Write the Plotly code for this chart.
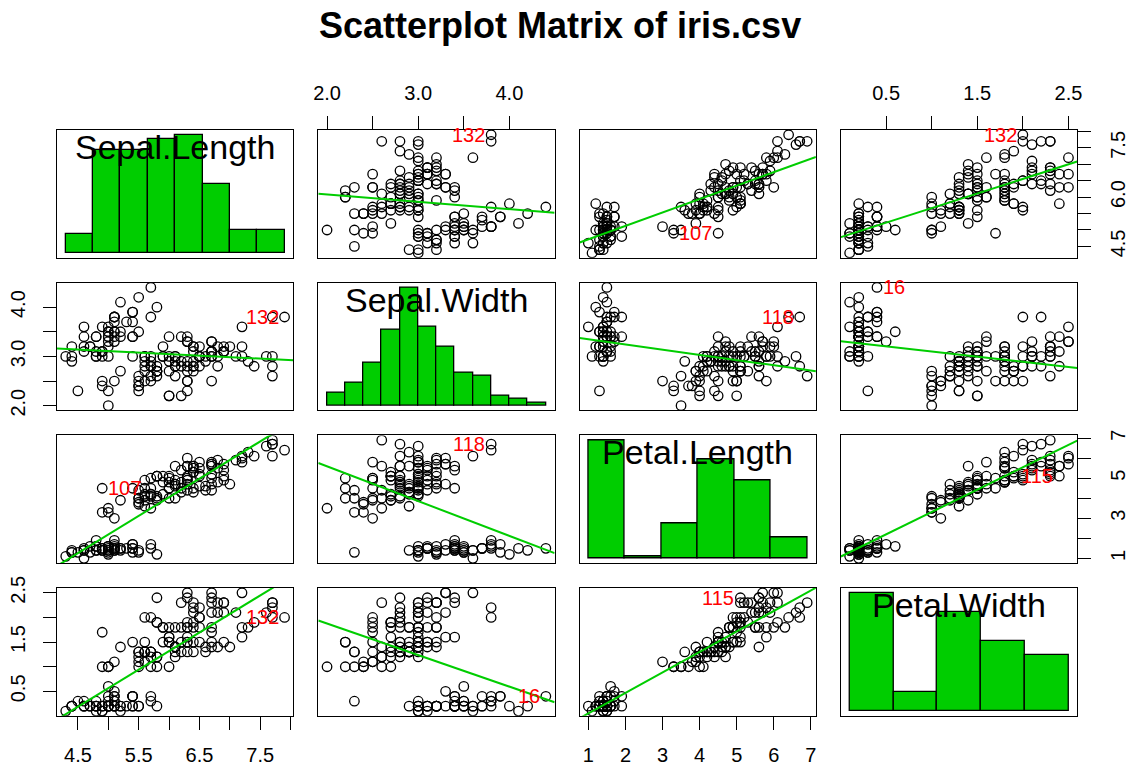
import numpy as np
import plotly.graph_objects as go

# ---------------- data (iris, 150 cases) ----------------
sepal_length = [5.1,4.9,4.7,4.6,5.0,5.4,4.6,5.0,4.4,4.9,5.4,4.8,4.8,4.3,5.8,5.7,5.4,5.1,5.7,5.1,
                5.4,5.1,4.6,5.1,4.8,5.0,5.0,5.2,5.2,4.7,4.8,5.4,5.2,5.5,4.9,5.0,5.5,4.9,4.4,5.1,
                5.0,4.5,4.4,5.0,5.1,4.8,5.1,4.6,5.3,5.0,
                7.0,6.4,6.9,5.5,6.5,5.7,6.3,4.9,6.6,5.2,5.0,5.9,6.0,6.1,5.6,6.7,5.6,5.8,6.2,5.6,
                5.9,6.1,6.3,6.1,6.4,6.6,6.8,6.7,6.0,5.7,5.5,5.5,5.8,6.0,5.4,6.0,6.7,6.3,5.6,5.5,
                5.5,6.1,5.8,5.0,5.6,5.7,5.7,6.2,5.1,5.7,
                6.3,5.8,7.1,6.3,6.5,7.6,4.9,7.3,6.7,7.2,6.5,6.4,6.8,5.7,5.8,6.4,6.5,7.7,7.7,6.0,
                6.9,5.6,7.7,6.3,6.7,7.2,6.2,6.1,6.4,7.2,7.4,7.9,6.4,6.3,6.1,7.7,6.3,6.4,6.0,6.9,
                6.7,6.9,5.8,6.8,6.7,6.7,6.3,6.5,6.2,5.9]
sepal_width = [3.5,3.0,3.2,3.1,3.6,3.9,3.4,3.4,2.9,3.1,3.7,3.4,3.0,3.0,4.0,4.4,3.9,3.5,3.8,3.8,
               3.4,3.7,3.6,3.3,3.4,3.0,3.4,3.5,3.4,3.2,3.1,3.4,4.1,4.2,3.1,3.2,3.5,3.6,3.0,3.4,
               3.5,2.3,3.2,3.5,3.8,3.0,3.8,3.2,3.7,3.3,
               3.2,3.2,3.1,2.3,2.8,2.8,3.3,2.4,2.9,2.7,2.0,3.0,2.2,2.9,2.9,3.1,3.0,2.7,2.2,2.5,
               3.2,2.8,2.5,2.8,2.9,3.0,2.8,3.0,2.9,2.6,2.4,2.4,2.7,2.7,3.0,3.4,3.1,2.3,3.0,2.5,
               2.6,3.0,2.6,2.3,2.7,3.0,2.9,2.9,2.5,2.8,
               3.3,2.7,3.0,2.9,3.0,3.0,2.5,2.9,2.5,3.6,3.2,2.7,3.0,2.5,2.8,3.2,3.0,3.8,2.6,2.2,
               3.2,2.8,2.8,2.7,3.3,3.2,2.8,3.0,2.8,3.0,2.8,3.8,2.8,2.8,2.6,3.0,3.4,3.1,3.0,3.1,
               3.1,3.1,2.7,3.2,3.3,3.0,2.5,3.0,3.4,3.0]
petal_length = [1.4,1.4,1.3,1.5,1.4,1.7,1.4,1.5,1.4,1.5,1.5,1.6,1.4,1.1,1.2,1.5,1.3,1.4,1.7,1.5,
                1.7,1.5,1.0,1.7,1.9,1.6,1.6,1.5,1.4,1.6,1.6,1.5,1.5,1.4,1.5,1.2,1.3,1.4,1.3,1.5,
                1.3,1.3,1.3,1.6,1.9,1.4,1.6,1.4,1.5,1.4,
                4.7,4.5,4.9,4.0,4.6,4.5,4.7,3.3,4.6,3.9,3.5,4.2,4.0,4.7,3.6,4.4,4.5,4.1,4.5,3.9,
                4.8,4.0,4.9,4.7,4.3,4.4,4.8,5.0,4.5,3.5,3.8,3.7,3.9,5.1,4.5,4.5,4.7,4.4,4.1,4.0,
                4.4,4.6,4.0,3.3,4.2,4.2,4.2,4.3,3.0,4.1,
                6.0,5.1,5.9,5.6,5.8,6.6,4.5,6.3,5.8,6.1,5.1,5.3,5.5,5.0,5.1,5.3,5.5,6.7,6.9,5.0,
                5.7,4.9,6.7,4.9,5.7,6.0,4.8,4.9,5.6,5.8,6.1,6.4,5.6,5.1,5.6,6.1,5.6,5.5,4.8,5.4,
                5.6,5.1,5.1,5.9,5.7,5.2,5.0,5.2,5.4,5.1]
petal_width = [0.2,0.2,0.2,0.2,0.2,0.4,0.3,0.2,0.2,0.1,0.2,0.2,0.1,0.1,0.2,0.4,0.4,0.3,0.3,0.3,
               0.2,0.4,0.2,0.5,0.2,0.2,0.4,0.2,0.2,0.2,0.2,0.4,0.1,0.2,0.2,0.2,0.2,0.1,0.2,0.2,
               0.3,0.3,0.2,0.6,0.4,0.3,0.2,0.2,0.2,0.2,
               1.4,1.5,1.5,1.3,1.5,1.3,1.6,1.0,1.3,1.4,1.0,1.5,1.0,1.4,1.3,1.4,1.5,1.0,1.5,1.1,
               1.8,1.3,1.5,1.2,1.3,1.4,1.4,1.7,1.5,1.0,1.1,1.0,1.2,1.6,1.5,1.6,1.5,1.3,1.3,1.3,
               1.2,1.4,1.2,1.0,1.3,1.2,1.3,1.3,1.1,1.3,
               2.5,1.9,2.1,1.8,2.2,2.1,1.7,1.8,1.8,2.5,2.0,1.9,2.1,2.0,2.4,2.3,1.8,2.2,2.3,1.5,
               2.3,2.0,2.0,1.8,2.1,1.8,1.8,1.8,2.1,1.6,1.9,2.0,2.2,1.5,1.4,2.3,2.4,1.8,1.8,2.1,
               2.4,2.3,1.9,2.3,2.5,2.3,1.9,2.0,2.3,1.8]

var_names = ["Sepal.Length", "Sepal.Width", "Petal.Length", "Petal.Width"]
variables = [sepal_length, sepal_width, petal_length, petal_width]

# histogram break points on the diagonal
sl_breaks = [4.0, 4.5, 5.0, 5.5, 6.0, 6.5, 7.0, 7.5, 8.0]
sw_breaks = [2.0, 2.2, 2.4, 2.6, 2.8, 3.0, 3.2, 3.4, 3.6, 3.8, 4.0, 4.2, 4.4]
pl_breaks = [1.0, 2.0, 3.0, 4.0, 5.0, 6.0, 7.0]
pw_breaks = [0.0, 0.5, 1.0, 1.5, 2.0, 2.5]
breaks = [sl_breaks, sw_breaks, pl_breaks, pw_breaks]

# tick marks / labels
sl_ticks = [4.5, 5.0, 5.5, 6.0, 6.5, 7.0, 7.5, 8.0]
sl_xlabels = ["4.5", "", "5.5", "", "6.5", "", "7.5", ""]
sl_ylabels = ["4.5", "", "", "6.0", "", "", "7.5", ""]
sw_ticks = [2.0, 2.5, 3.0, 3.5, 4.0]
sw_labels = ["2.0", "", "3.0", "", "4.0"]
pl_ticks = [1, 2, 3, 4, 5, 6, 7]
pl_xlabels = ["1", "2", "3", "4", "5", "6", "7"]
pl_ylabels = ["1", "", "3", "", "5", "", "7"]
pw_ticks = [0.5, 1.0, 1.5, 2.0, 2.5]
pw_labels = ["0.5", "", "1.5", "", "2.5"]

# identified cases per panel: (row, col) -> case number
id_rows = [0, 0, 0, 1, 1, 1, 2, 2, 2, 3, 3, 3]
id_cols = [1, 2, 3, 0, 2, 3, 0, 1, 3, 0, 1, 2]
id_cases = [132, 107, 132, 132, 118, 16, 107, 118, 115, 132, 16, 115]

# ---------------- styling / layout ----------------
W, H = 1130, 769
GREEN = "#00CD00"
FONT = "Liberation Sans, Arial, sans-serif"
col_left = [57, 318.3, 579.6, 840.9]
col_w = 236.3
row_top = [130, 282.7, 435.4, 588.1]
row_h = 127.7
FRAME_W = 1.4

def rng(vals):
    lo, hi = min(vals), max(vals)
    d = (hi - lo) * 0.04
    return [lo - d, hi + d]

def rc_hist(vals, br):
    counts = []
    for i in range(len(br) - 1):
        lo, hi = br[i], br[i + 1]
        c = 0
        for v in vals:
            if (v > lo or (i == 0 and v >= lo)) and v <= hi:
                c += 1
        counts.append(c)
    return counts

fig = go.Figure()
layout = {}

def axname(k, a):
    return a + ("" if k == 1 else str(k))

for r in range(4):
    for c in range(4):
        k = r * 4 + c + 1
        xa, ya = axname(k, "xaxis"), axname(k, "yaxis")
        xr, yr = axname(k, "x"), axname(k, "y")
        xdom = [col_left[c] / W, (col_left[c] + col_w) / W]
        ydom = [1 - (row_top[r] + row_h) / H, 1 - row_top[r] / H]
        base = dict(showgrid=False, zeroline=False, showline=True, mirror=True,
                    linecolor="black", linewidth=FRAME_W, fixedrange=True,
                    tickfont=dict(family=FONT, size=20, color="black"),
                    ticks="", showticklabels=False, tickcolor="black",
                    ticklen=13, tickwidth=1.3, automargin=False)
        xax = dict(base, domain=xdom, anchor=yr)
        yax = dict(base, domain=ydom, anchor=xr)
        if r == c:
            vals = variables[c]
            br = breaks[c]
            counts = rc_hist(vals, br)
            centers = [(br[i] + br[i + 1]) / 2 for i in range(len(br) - 1)]
            widths = [br[i + 1] - br[i] for i in range(len(br) - 1)]
            fig.add_trace(go.Bar(x=centers, y=counts, width=widths, xaxis=xr, yaxis=yr,
                                 marker=dict(color=GREEN, line=dict(color="black", width=1.3)),
                                 showlegend=False, hoverinfo="skip"))
            xax["range"] = rng(br)
            m = max(counts)
            yax["range"] = [-0.04 * m, 1.04 * m]
            fig.add_annotation(x=(xdom[0] + xdom[1]) / 2, y=ydom[1], xref="paper", yref="paper",
                               text=var_names[c], showarrow=False, xanchor="center", yanchor="top",
                               yshift=4,
                               font=dict(family=FONT, size=34, color="black"))
        else:
            xv, yv = variables[c], variables[r]
            xrg, yrg = rng(xv), rng(yv)
            xax["range"] = xrg
            yax["range"] = yrg
            fig.add_trace(go.Scatter(x=xv, y=yv, mode="markers", xaxis=xr, yaxis=yr,
                                     marker=dict(symbol="circle-open", size=9.5, color="black",
                                                 line=dict(width=1.3, color="black")),
                                     showlegend=False, hoverinfo="skip"))
            b, a = np.polyfit(xv, yv, 1)
            fig.add_trace(go.Scatter(x=xrg, y=[a + b * xrg[0], a + b * xrg[1]], mode="lines",
                                     xaxis=xr, yaxis=yr, line=dict(color=GREEN, width=2),
                                     showlegend=False, hoverinfo="skip"))
        # ticks
        if r == 0 and c in (1, 3):
            xax.update(side="top", ticks="outside", showticklabels=True, ticklabelstandoff=8)
        if r == 3 and c in (0, 2):
            xax.update(side="bottom", ticks="outside", showticklabels=True, ticklabelstandoff=8)
        if c == 0 and r in (1, 3):
            yax.update(side="left", ticks="outside", showticklabels=True, tickangle=-90, ticklabelstandoff=10)
        if c == 3 and r in (0, 2):
            yax.update(side="right", ticks="outside", showticklabels=True, tickangle=-90, ticklabelstandoff=10)
        tickspec = {0: (sl_ticks, sl_xlabels, sl_ylabels), 1: (sw_ticks, sw_labels, sw_labels),
                    2: (pl_ticks, pl_xlabels, pl_ylabels), 3: (pw_ticks, pw_labels, pw_labels)}
        if r != c:
            tv, tx, _ = tickspec[c]
            xax.update(tickmode="array", tickvals=tv, ticktext=tx)
            tv, _, ty = tickspec[r]
            yax.update(tickmode="array", tickvals=tv, ticktext=ty)
        layout[xa] = xax
        layout[ya] = yax

# identified point labels
for r, c, case in zip(id_rows, id_cols, id_cases):
    k = r * 4 + c + 1
    px, py = variables[c][case - 1], variables[r][case - 1]
    xrg = rng(variables[c])
    right_half = px > (xrg[0] + xrg[1]) / 2
    fig.add_annotation(x=px, y=py, xref=axname(k, "x"), yref=axname(k, "y"),
                       text=str(case), showarrow=False,
                       xanchor="right" if right_half else "left", yanchor="middle",
                       xshift=-4 if right_half else 4,
                       font=dict(family=FONT, size=20, color="red"))

fig.add_annotation(x=560 / W, y=1 - 26 / H, xref="paper", yref="paper",
                   text="<b>Scatterplot Matrix of iris.csv</b>", showarrow=False,
                   xanchor="center", yanchor="middle",
                   font=dict(family=FONT, size=36, color="black"))

fig.update_layout(width=W, height=H, margin=dict(l=0, r=0, t=0, b=0, pad=0, autoexpand=False),
                  paper_bgcolor="white", plot_bgcolor="white", showlegend=False,
                  bargap=0, **layout)

fig.write_html("out.html", config={"displayModeBar": False},
               post_script="document.body.style.margin='0px';document.body.style.padding='0px';")
